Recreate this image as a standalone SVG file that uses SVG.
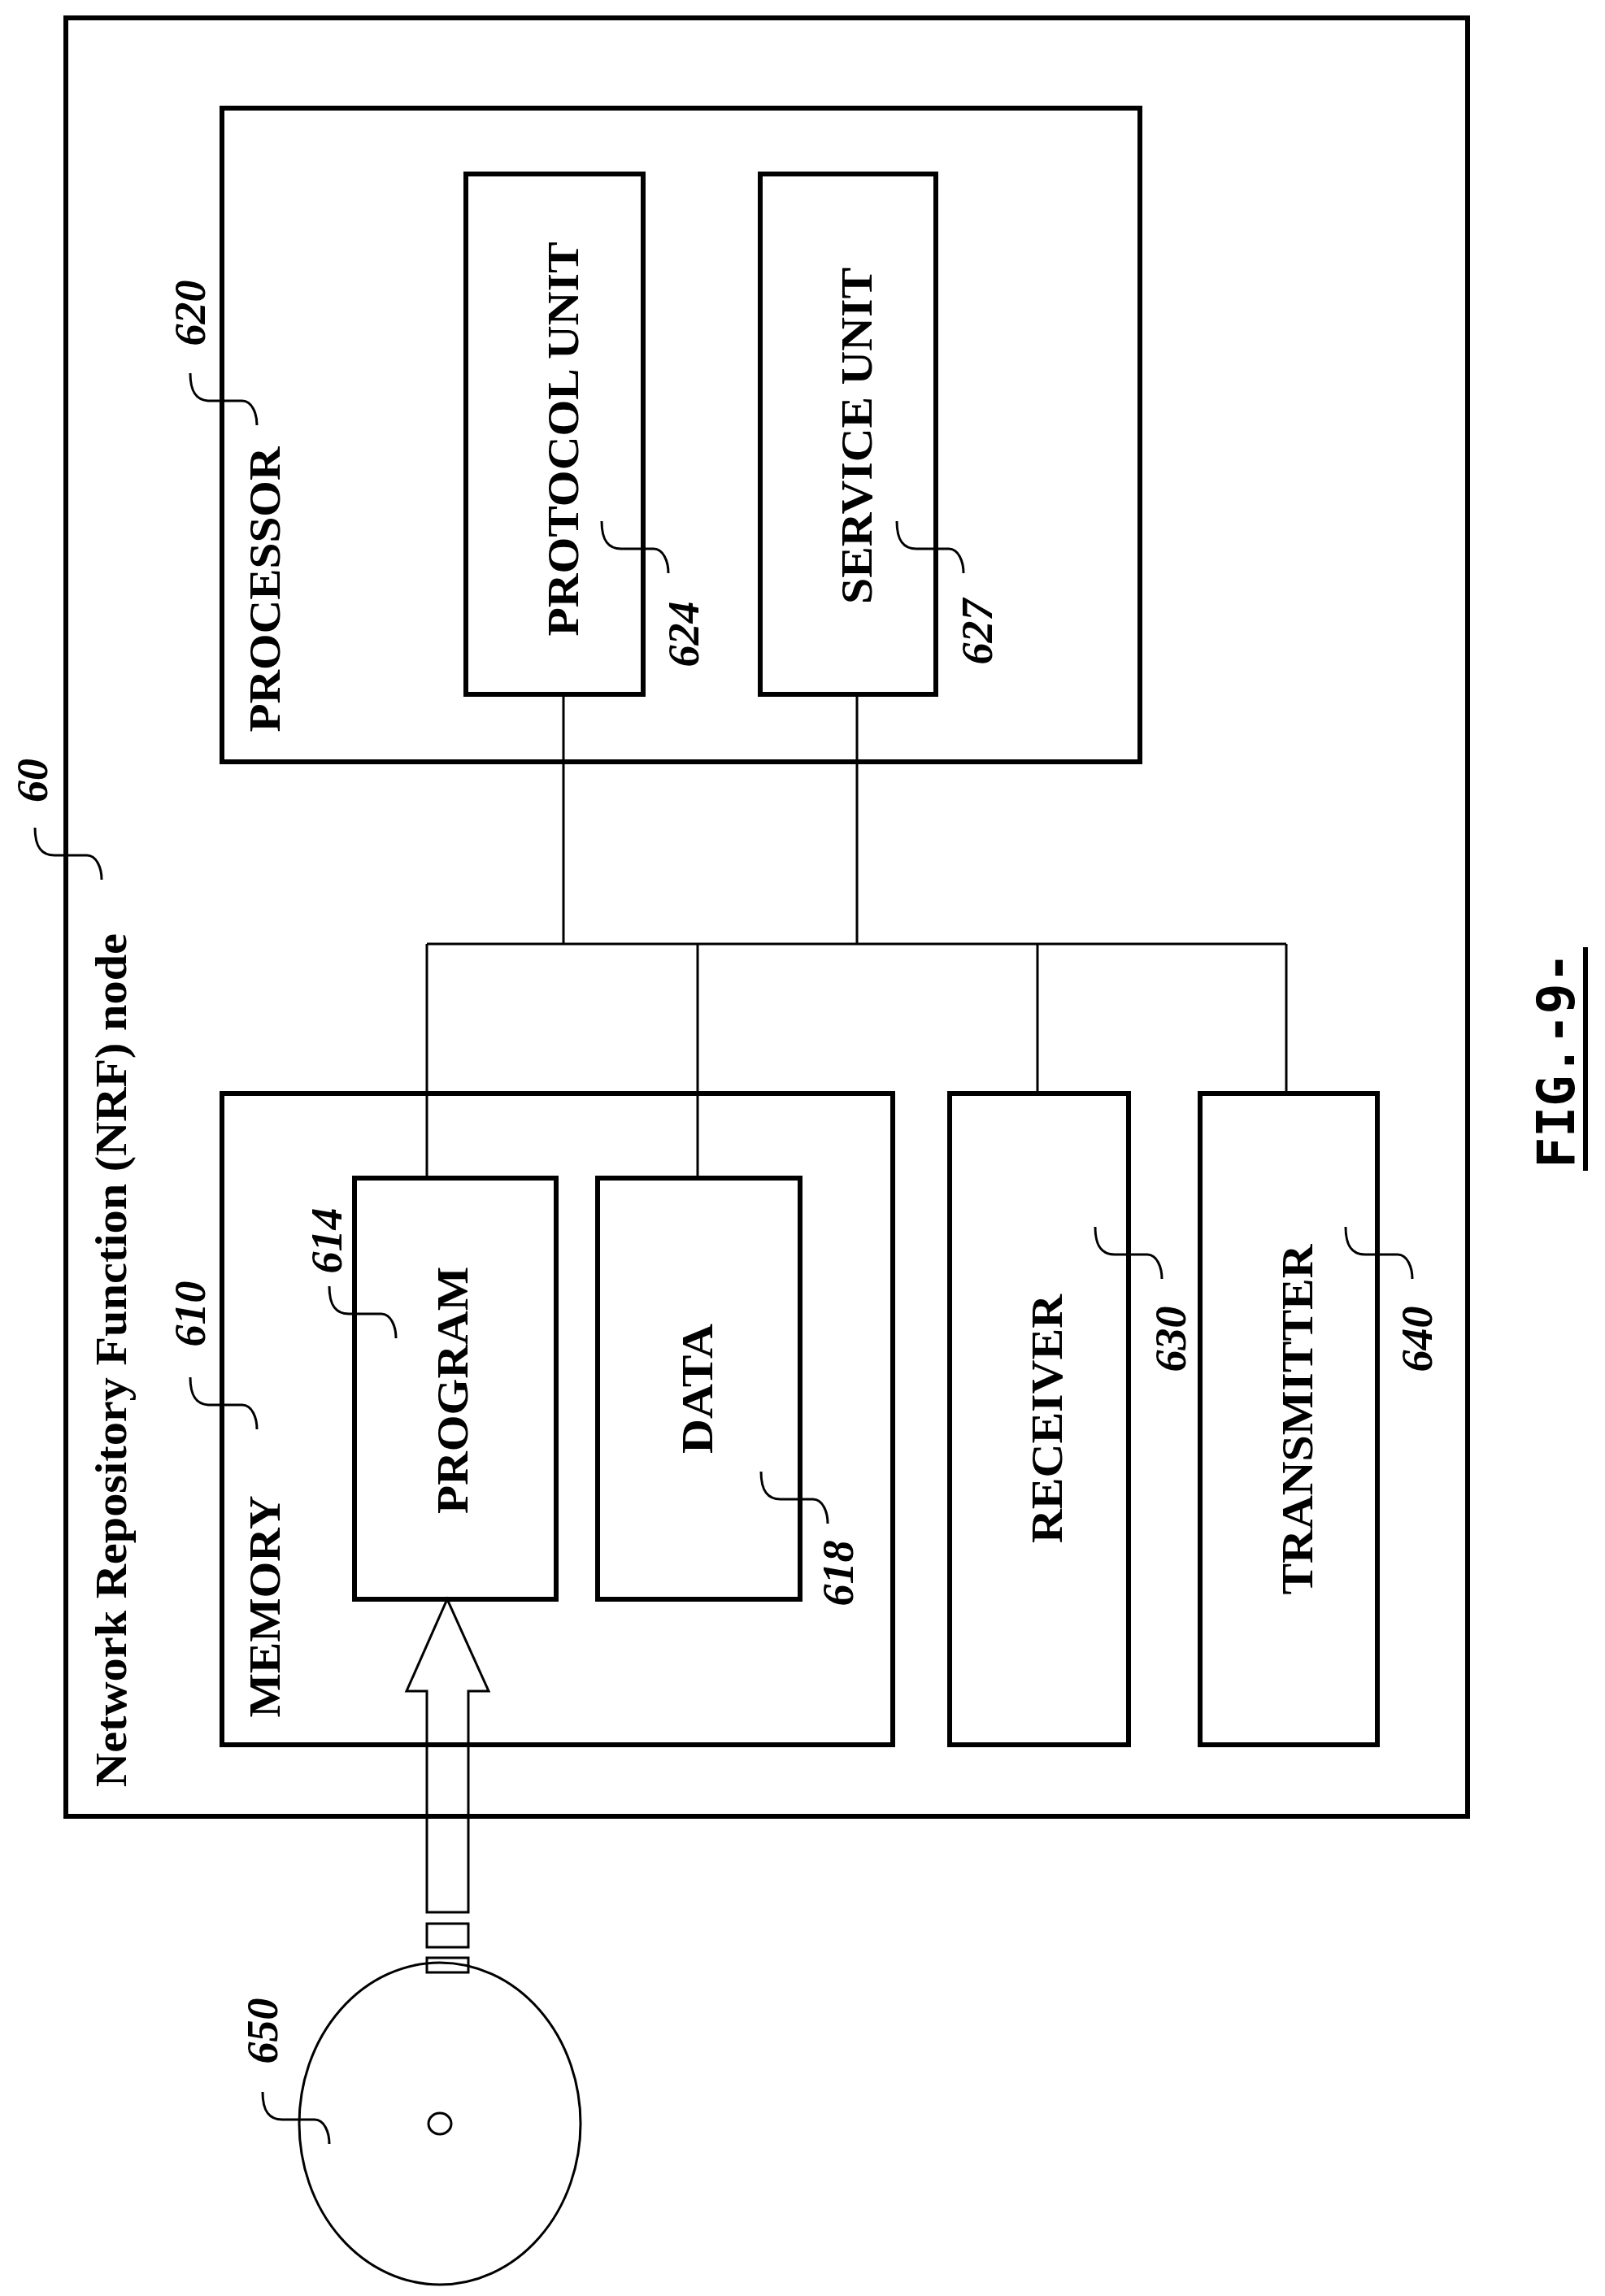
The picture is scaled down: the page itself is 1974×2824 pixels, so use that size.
<svg xmlns="http://www.w3.org/2000/svg" width="1974" height="2824" viewBox="0 0 1974 2824">
<style>
.b{fill:none;stroke:#000;stroke-width:6}
.l{fill:none;stroke:#000;stroke-width:3}
.t{font-family:"Liberation Serif",serif;font-weight:bold;font-size:54px;text-anchor:middle;dominant-baseline:central}
.n{font-family:"Liberation Serif",serif;font-weight:bold;font-style:italic;font-size:54px;text-anchor:middle;dominant-baseline:central}
</style>
<rect width="1974" height="2824" fill="#fff"/>
<g id="nrf"><rect class="b" x="81" y="22" width="1724" height="2212"/>
<text class="t" transform="translate(137,1673) rotate(-90)" textLength="1050" lengthAdjust="spacingAndGlyphs">Network Repository Function (NRF) node</text>
<text class="n" transform="translate(40,960) rotate(-90)">60</text>
<path class="l" d="M43,1018 c0,24 8,34 24,34 h40 c12,0 18,16 18,30"/></g>
<g id="processor"><rect class="b" x="273" y="133" width="1129" height="804"/>
<text class="t" transform="translate(326,725) rotate(-90)" textLength="351" lengthAdjust="spacingAndGlyphs">PROCESSOR</text>
<text class="n" transform="translate(234,385) rotate(-90)">620</text>
<path class="l" d="M234,459 c0,24 8,34 24,34 h40 c12,0 18,16 18,30"/></g>
<g id="protocol"><rect class="b" x="573" y="214" width="218" height="640"/>
<text class="t" transform="translate(693,540) rotate(-90)" textLength="485" lengthAdjust="spacingAndGlyphs">PROTOCOL UNIT</text>
<text class="n" transform="translate(841,780) rotate(-90)">624</text>
<path class="l" d="M740,641 c0,24 8,34 24,34 h40 c12,0 18,16 18,30"/></g>
<g id="service"><rect class="b" x="935" y="214" width="216" height="640"/>
<text class="t" transform="translate(1054,536) rotate(-90)" textLength="414" lengthAdjust="spacingAndGlyphs">SERVICE UNIT</text>
<text class="n" transform="translate(1202,777) rotate(-90)">627</text>
<path class="l" d="M1103,641 c0,24 8,34 24,34 h40 c12,0 18,16 18,30"/></g>
<g id="memory"><rect class="b" x="273" y="1345" width="825" height="801"/>
<text class="t" transform="translate(326,1976) rotate(-90)" textLength="273" lengthAdjust="spacingAndGlyphs">MEMORY</text>
<text class="n" transform="translate(234,1616) rotate(-90)">610</text>
<path class="l" d="M234,1694 c0,24 8,34 24,34 h40 c12,0 18,16 18,30"/></g>
<g id="program"><rect class="b" x="436" y="1449" width="248" height="518"/>
<text class="t" transform="translate(557,1710) rotate(-90)" textLength="304" lengthAdjust="spacingAndGlyphs">PROGRAM</text>
<text class="n" transform="translate(402,1526) rotate(-90)">614</text>
<path class="l" d="M405,1582 c0,24 8,34 24,34 h40 c12,0 18,16 18,30"/></g>
<g id="data"><rect class="b" x="735" y="1449" width="249" height="518"/>
<text class="t" transform="translate(858,1708) rotate(-90)" textLength="160" lengthAdjust="spacingAndGlyphs">DATA</text>
<text class="n" transform="translate(1031,1935) rotate(-90)">618</text>
<path class="l" d="M936,1810 c0,24 8,34 24,34 h40 c12,0 18,16 18,30"/></g>
<g id="receiver"><rect class="b" x="1168" y="1345" width="220" height="801"/>
<text class="t" transform="translate(1288,1745) rotate(-90)" textLength="306" lengthAdjust="spacingAndGlyphs">RECEIVER</text>
<text class="n" transform="translate(1440,1647) rotate(-90)">630</text>
<path class="l" d="M1347,1509 c0,24 8,34 24,34 h40 c12,0 18,16 18,30"/></g>
<g id="transmitter"><rect class="b" x="1476" y="1345" width="218" height="801"/>
<text class="t" transform="translate(1596,1746) rotate(-90)" textLength="431" lengthAdjust="spacingAndGlyphs">TRANSMITTER</text>
<text class="n" transform="translate(1743,1647) rotate(-90)">640</text>
<path class="l" d="M1655,1509 c0,24 8,34 24,34 h40 c12,0 18,16 18,30"/></g>
<g id="disk">
<ellipse class="l" cx="541" cy="2612" rx="173" ry="198"/>
<ellipse class="l" cx="541" cy="2612" rx="14" ry="13"/>
<rect class="l" x="525" y="2366" width="51" height="29"/>
<rect class="l" x="525" y="2408" width="51" height="18"/>
<text class="n" transform="translate(323,2498) rotate(-90)">650</text>
<path class="l" d="M323,2573 c0,24 8,34 24,34 h40 c12,0 18,16 18,30"/></g>
<g id="connectors">
<path class="l" d="M693,854 V1161 M1054,854 V1161 M525,1161 H1582 M525,1161 V1449 M858,1161 V1449 M1276,1161 V1345 M1582,1161 V1345"/>
<path class="l" d="M525,2352 V2080 H500 L550,1967 L601,2080 H576 V2352 Z"/>
</g>
<g id="fig">
<text transform="translate(1914,1304) rotate(-90)" font-family="'DejaVu Sans Mono',monospace" font-weight="bold" font-size="64" text-anchor="middle" dominant-baseline="central" textLength="265" lengthAdjust="spacingAndGlyphs">FIG.-9-</text>
<line x1="1950" y1="1165" x2="1950" y2="1440" stroke="#000" stroke-width="6"/>
</g>
</svg>
